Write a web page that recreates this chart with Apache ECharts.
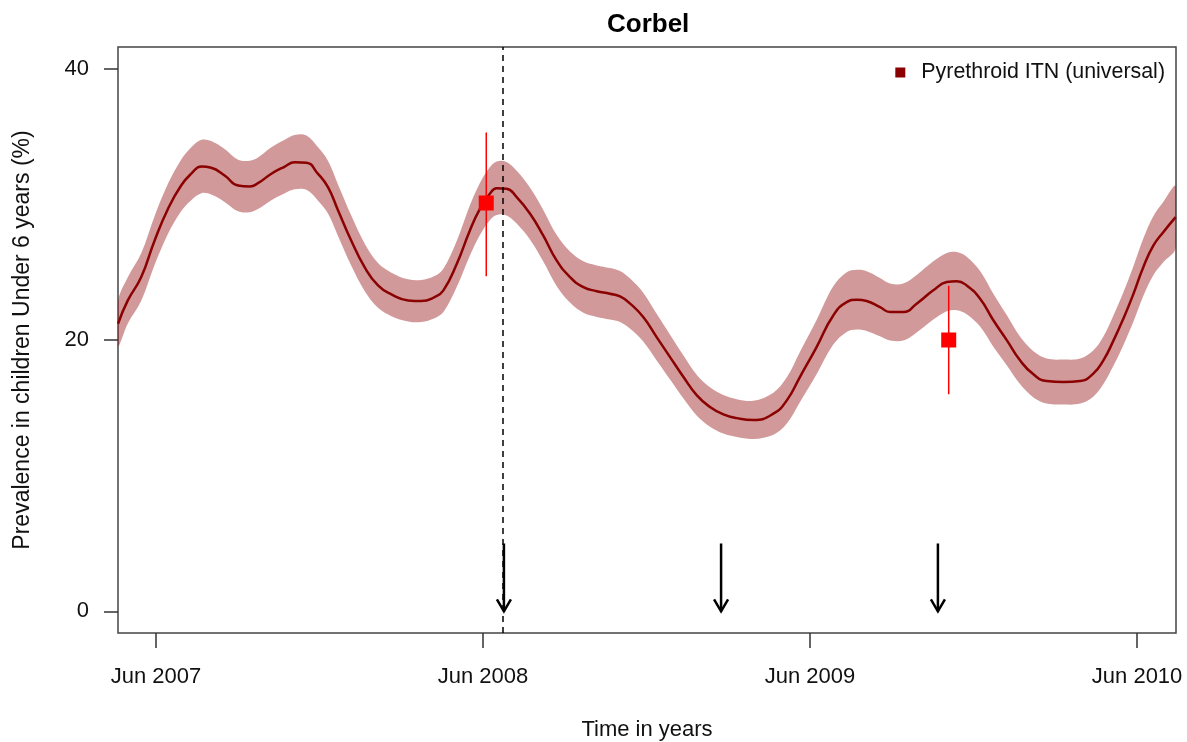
<!DOCTYPE html>
<html>
<head>
<meta charset="utf-8">
<title>Corbel</title>
<script src="https://cdn.jsdelivr.net/npm/echarts@6/dist/echarts.min.js"></script>
<style>
  html, body { margin: 0; padding: 0; background: #ffffff; }
  #chart { width: 1187px; height: 742px; }
</style>
</head>
<body>
<div id="chart"></div>
<script>
// Time is measured in years since June 2007.
const timeYears = [
  -0.116, -0.086, -0.045, -0.004, 0.037, 0.077, 0.108, 0.139, 0.169, 0.210,
  0.251, 0.287, 0.312, 0.353, 0.394, 0.424, 0.460, 0.495, 0.526, 0.557,
  0.597, 0.638, 0.679, 0.720, 0.771, 0.811, 0.852, 0.879, 0.920, 0.960,
  0.991, 1.021, 1.042, 1.072, 1.103, 1.144, 1.184, 1.225, 1.266, 1.307,
  1.348, 1.388, 1.419, 1.450, 1.490, 1.531, 1.572, 1.613, 1.654, 1.694,
  1.735, 1.776, 1.827, 1.888, 1.929, 1.969, 2.020, 2.071, 2.112,
  2.143, 2.173, 2.214, 2.245, 2.285, 2.326, 2.377, 2.418, 2.449, 2.479,
  2.520, 2.561, 2.602, 2.642, 2.683, 2.724, 2.775, 2.826, 2.866, 2.897,
  2.928, 2.958, 2.989, 3.019, 3.050, 3.080, 3.118
];

// Predicted prevalence (%) and its uncertainty band
const prevalenceMean = [
  21.20, 22.92, 24.64, 27.34, 29.68, 31.39, 32.26, 32.79, 32.70, 32.13,
  31.39, 31.32, 31.56, 32.26, 32.79, 33.11, 33.07, 32.26, 31.27, 29.55,
  27.34, 25.37, 24.02, 23.36, 22.92, 22.87, 23.16, 23.66, 25.62, 28.08,
  29.68, 30.78, 31.19, 31.15, 30.53, 29.31, 27.71, 25.87, 24.64, 23.90,
  23.60, 23.41, 23.21, 22.68, 21.69, 20.21, 18.74, 17.27, 15.92, 15.06,
  14.52, 14.24, 14.10, 14.57, 15.55, 17.27, 19.48, 21.81, 22.79,
  22.97, 22.87, 22.42, 22.06, 22.06, 22.68, 23.66, 24.27, 24.34, 24.02,
  23.04, 21.44, 19.97, 18.50, 17.47, 16.97, 16.90, 16.97, 17.52, 18.50,
  19.97, 21.57, 23.41, 25.37, 26.97, 27.95, 29.06
];
const prevalenceLower = [
  19.55, 21.22, 22.89, 25.54, 27.83, 29.49, 30.31, 30.82, 30.73, 30.18,
  29.49, 29.42, 29.66, 30.31, 30.82, 31.11, 31.07, 30.29, 29.32, 27.65,
  25.49, 23.62, 22.37, 21.76, 21.37, 21.32, 21.61, 22.06, 23.92, 26.23,
  27.76, 28.83, 29.22, 29.18, 28.58, 27.39, 25.81, 23.99, 22.76, 22.00,
  21.70, 21.51, 21.33, 20.83, 19.89, 18.49, 17.09, 15.69, 14.42, 13.61,
  13.10, 12.84, 12.70, 13.02, 13.85, 15.42, 17.48, 19.66, 20.59,
  20.77, 20.67, 20.27, 19.96, 19.96, 20.56, 21.51, 22.12, 22.19, 21.90,
  20.99, 19.49, 18.12, 16.75, 15.77, 15.31, 15.24, 15.31, 15.82, 16.75,
  18.12, 19.62, 21.36, 23.25, 24.79, 25.73, 26.79
];
const prevalenceUpper = [
  22.85, 24.62, 26.39, 29.14, 31.53, 33.29, 34.21, 34.76, 34.67, 34.08,
  33.29, 33.22, 33.46, 34.21, 34.76, 35.11, 35.07, 34.23, 33.22, 31.45,
  29.19, 27.12, 25.67, 24.96, 24.47, 24.42, 24.71, 25.26, 27.32, 29.93,
  31.60, 32.73, 33.16, 33.12, 32.48, 31.23, 29.61, 27.75, 26.52, 25.80,
  25.50, 25.31, 25.09, 24.53, 23.49, 21.93, 20.39, 18.85, 17.42, 16.51,
  15.94, 15.64, 15.52, 16.12, 17.25, 19.12, 21.48, 23.96, 24.99,
  25.17, 25.07, 24.57, 24.16, 24.16, 24.80, 25.81, 26.42, 26.49, 26.14,
  25.09, 23.39, 21.82, 20.25, 19.17, 18.63, 18.56, 18.63, 19.22, 20.25,
  21.82, 23.52, 25.46, 27.49, 29.15, 30.17, 31.33
];

// Observed survey prevalence with its interval
const surveyTime = [1.010, 2.424];
const surveyValue = [30.1, 20.0];
const surveyLow = [24.7, 16.0];
const surveyHigh = [35.3, 24.0];

// Net distribution rounds
const distributionTime = [1.064, 1.728, 2.391];
const arrowFrom = 5;
const arrowTo = 0;

// Axis ticks
const xTickValues = [0, 1, 2, 3];
const xTickLabels = ['Jun 2007', 'Jun 2008', 'Jun 2009', 'Jun 2010'];
const yTickValues = [0, 20, 40];

const legendLabel = 'Pyrethroid ITN (universal)';
const FONT = "'Liberation Sans', Arial, Helvetica, sans-serif";

const meanPoints = timeYears.map((t, i) => [t, prevalenceMean[i]]);
const bandPoints = timeYears.map((t, i) => [t, prevalenceLower[i], prevalenceUpper[i]]);
const surveyPoints = surveyTime.map((t, i) => [t, surveyValue[i]]);
const surveyBars = surveyTime.map((t, i) => [t, surveyLow[i], surveyHigh[i]]);
const arrowData = distributionTime.map(t => [t, arrowFrom, arrowTo]);

const chart = echarts.init(document.getElementById('chart'), null, { renderer: 'canvas' });

chart.setOption({
  animation: false,
  backgroundColor: '#ffffff',
  textStyle: { fontFamily: FONT },
  title: {
    text: 'Corbel',
    left: 602,
    top: 7,
    textStyle: { fontSize: 26, fontWeight: 'bold', color: '#000', fontFamily: FONT }
  },
  legend: {
    right: 22,
    top: 62,
    padding: 0,
    itemWidth: 10,
    itemHeight: 10,
    selectedMode: false,
    data: [{ name: legendLabel, icon: 'rect', itemStyle: { color: '#8B0000' } }],
    textStyle: { fontSize: 21.4, color: '#111', fontFamily: FONT, padding: [0, 0, 0, 11] }
  },
  grid: {
    left: 118,
    top: 47,
    right: 11,
    bottom: 109,
    containLabel: false,
    outerBoundsMode: 'none',
    show: true,
    borderColor: '#444',
    borderWidth: 1.5,
    backgroundColor: 'transparent'
  },
  xAxis: {
    type: 'value',
    min: -0.116,
    max: 3.119,
    axisLine: { show: false, onZero: false },
    splitLine: { show: false },
    axisTick: {
      show: true,
      inside: false,
      customValues: xTickValues,
      length: 15,
      lineStyle: { color: '#333', width: 1.5 }
    },
    axisLabel: {
      customValues: xTickValues,
      formatter: v => xTickLabels[xTickValues.indexOf(Math.round(v))],
      fontSize: 22,
      color: '#111',
      margin: 33,
      fontFamily: FONT
    },
    name: 'Time in years',
    nameLocation: 'middle',
    nameGap: 86,
    nameTextStyle: { fontSize: 22, color: '#111', fontFamily: FONT }
  },
  yAxis: {
    type: 'value',
    min: -1.6,
    max: 41.6,
    axisLine: { show: false, onZero: false },
    splitLine: { show: false },
    axisTick: {
      show: true,
      inside: false,
      customValues: yTickValues,
      length: 14,
      lineStyle: { color: '#333', width: 1.5 }
    },
    axisLabel: {
      customValues: yTickValues,
      fontSize: 22,
      color: '#111',
      margin: 29,
      fontFamily: FONT
    },
    name: 'Prevalence in children Under 6 years (%)',
    nameLocation: 'middle',
    nameGap: 84,
    nameTextStyle: { fontSize: 23, color: '#111', fontFamily: FONT }
  },
  series: [
    {
      // uncertainty band drawn as one filled polygon
      type: 'custom',
      name: 'band',
      coordinateSystem: 'cartesian2d',
      silent: true,
      clip: true,
      z: 1,
      encode: { x: 0, y: [1, 2] },
      data: bandPoints,
      renderItem: function (params, api) {
        if (params.dataIndex !== 0) return null;
        const pts = [];
        for (let i = 0; i < bandPoints.length; i++) {
          pts.push(api.coord([bandPoints[i][0], bandPoints[i][2]]));
        }
        for (let i = bandPoints.length - 1; i >= 0; i--) {
          pts.push(api.coord([bandPoints[i][0], bandPoints[i][1]]));
        }
        return {
          type: 'polygon',
          shape: { points: pts, smooth: 0.35 },
          style: { fill: 'rgba(139,0,0,0.4)', stroke: null }
        };
      }
    },
    {
      type: 'line',
      name: legendLabel,
      data: meanPoints,
      smooth: 0.5,
      symbol: 'none',
      clip: true,
      z: 2,
      color: '#8B0000',
      lineStyle: { color: '#8B0000', width: 2.5 },
      markLine: {
        silent: true,
        symbol: 'none',
        label: { show: false },
        lineStyle: { color: '#000', type: [6, 5], width: 1.5 },
        data: [{ xAxis: distributionTime[0] }]
      }
    },
    {
      // survey interval bars
      type: 'custom',
      name: 'survey interval',
      coordinateSystem: 'cartesian2d',
      silent: true,
      z: 4,
      encode: { x: 0, y: [1, 2] },
      data: surveyBars,
      renderItem: function (params, api) {
        const lo = api.coord([api.value(0), api.value(1)]);
        const hi = api.coord([api.value(0), api.value(2)]);
        return {
          type: 'line',
          shape: { x1: lo[0], y1: lo[1], x2: hi[0], y2: hi[1] },
          style: { stroke: '#FF0000', lineWidth: 1.5 }
        };
      }
    },
    {
      type: 'scatter',
      name: 'survey',
      data: surveyPoints,
      symbol: 'rect',
      symbolSize: 15,
      z: 5,
      itemStyle: { color: '#FF0000', opacity: 1 }
    },
    {
      // distribution arrows pointing down to the time axis
      type: 'custom',
      name: 'distribution',
      coordinateSystem: 'cartesian2d',
      silent: true,
      z: 5,
      encode: { x: 0, y: [1, 2] },
      data: arrowData,
      renderItem: function (params, api) {
        const top = api.coord([api.value(0), api.value(1)]);
        const tip = api.coord([api.value(0), api.value(2)]);
        const style = { stroke: '#000', lineWidth: 2.5, fill: null, lineJoin: 'miter' };
        return {
          type: 'group',
          children: [
            { type: 'line', shape: { x1: top[0], y1: top[1], x2: tip[0], y2: tip[1] }, style: style },
            {
              type: 'polyline',
              shape: { points: [[tip[0] - 7, tip[1] - 12], [tip[0], tip[1]], [tip[0] + 7, tip[1] - 12]] },
              style: style
            }
          ]
        };
      }
    }
  ]
});
</script>
</body>
</html>
